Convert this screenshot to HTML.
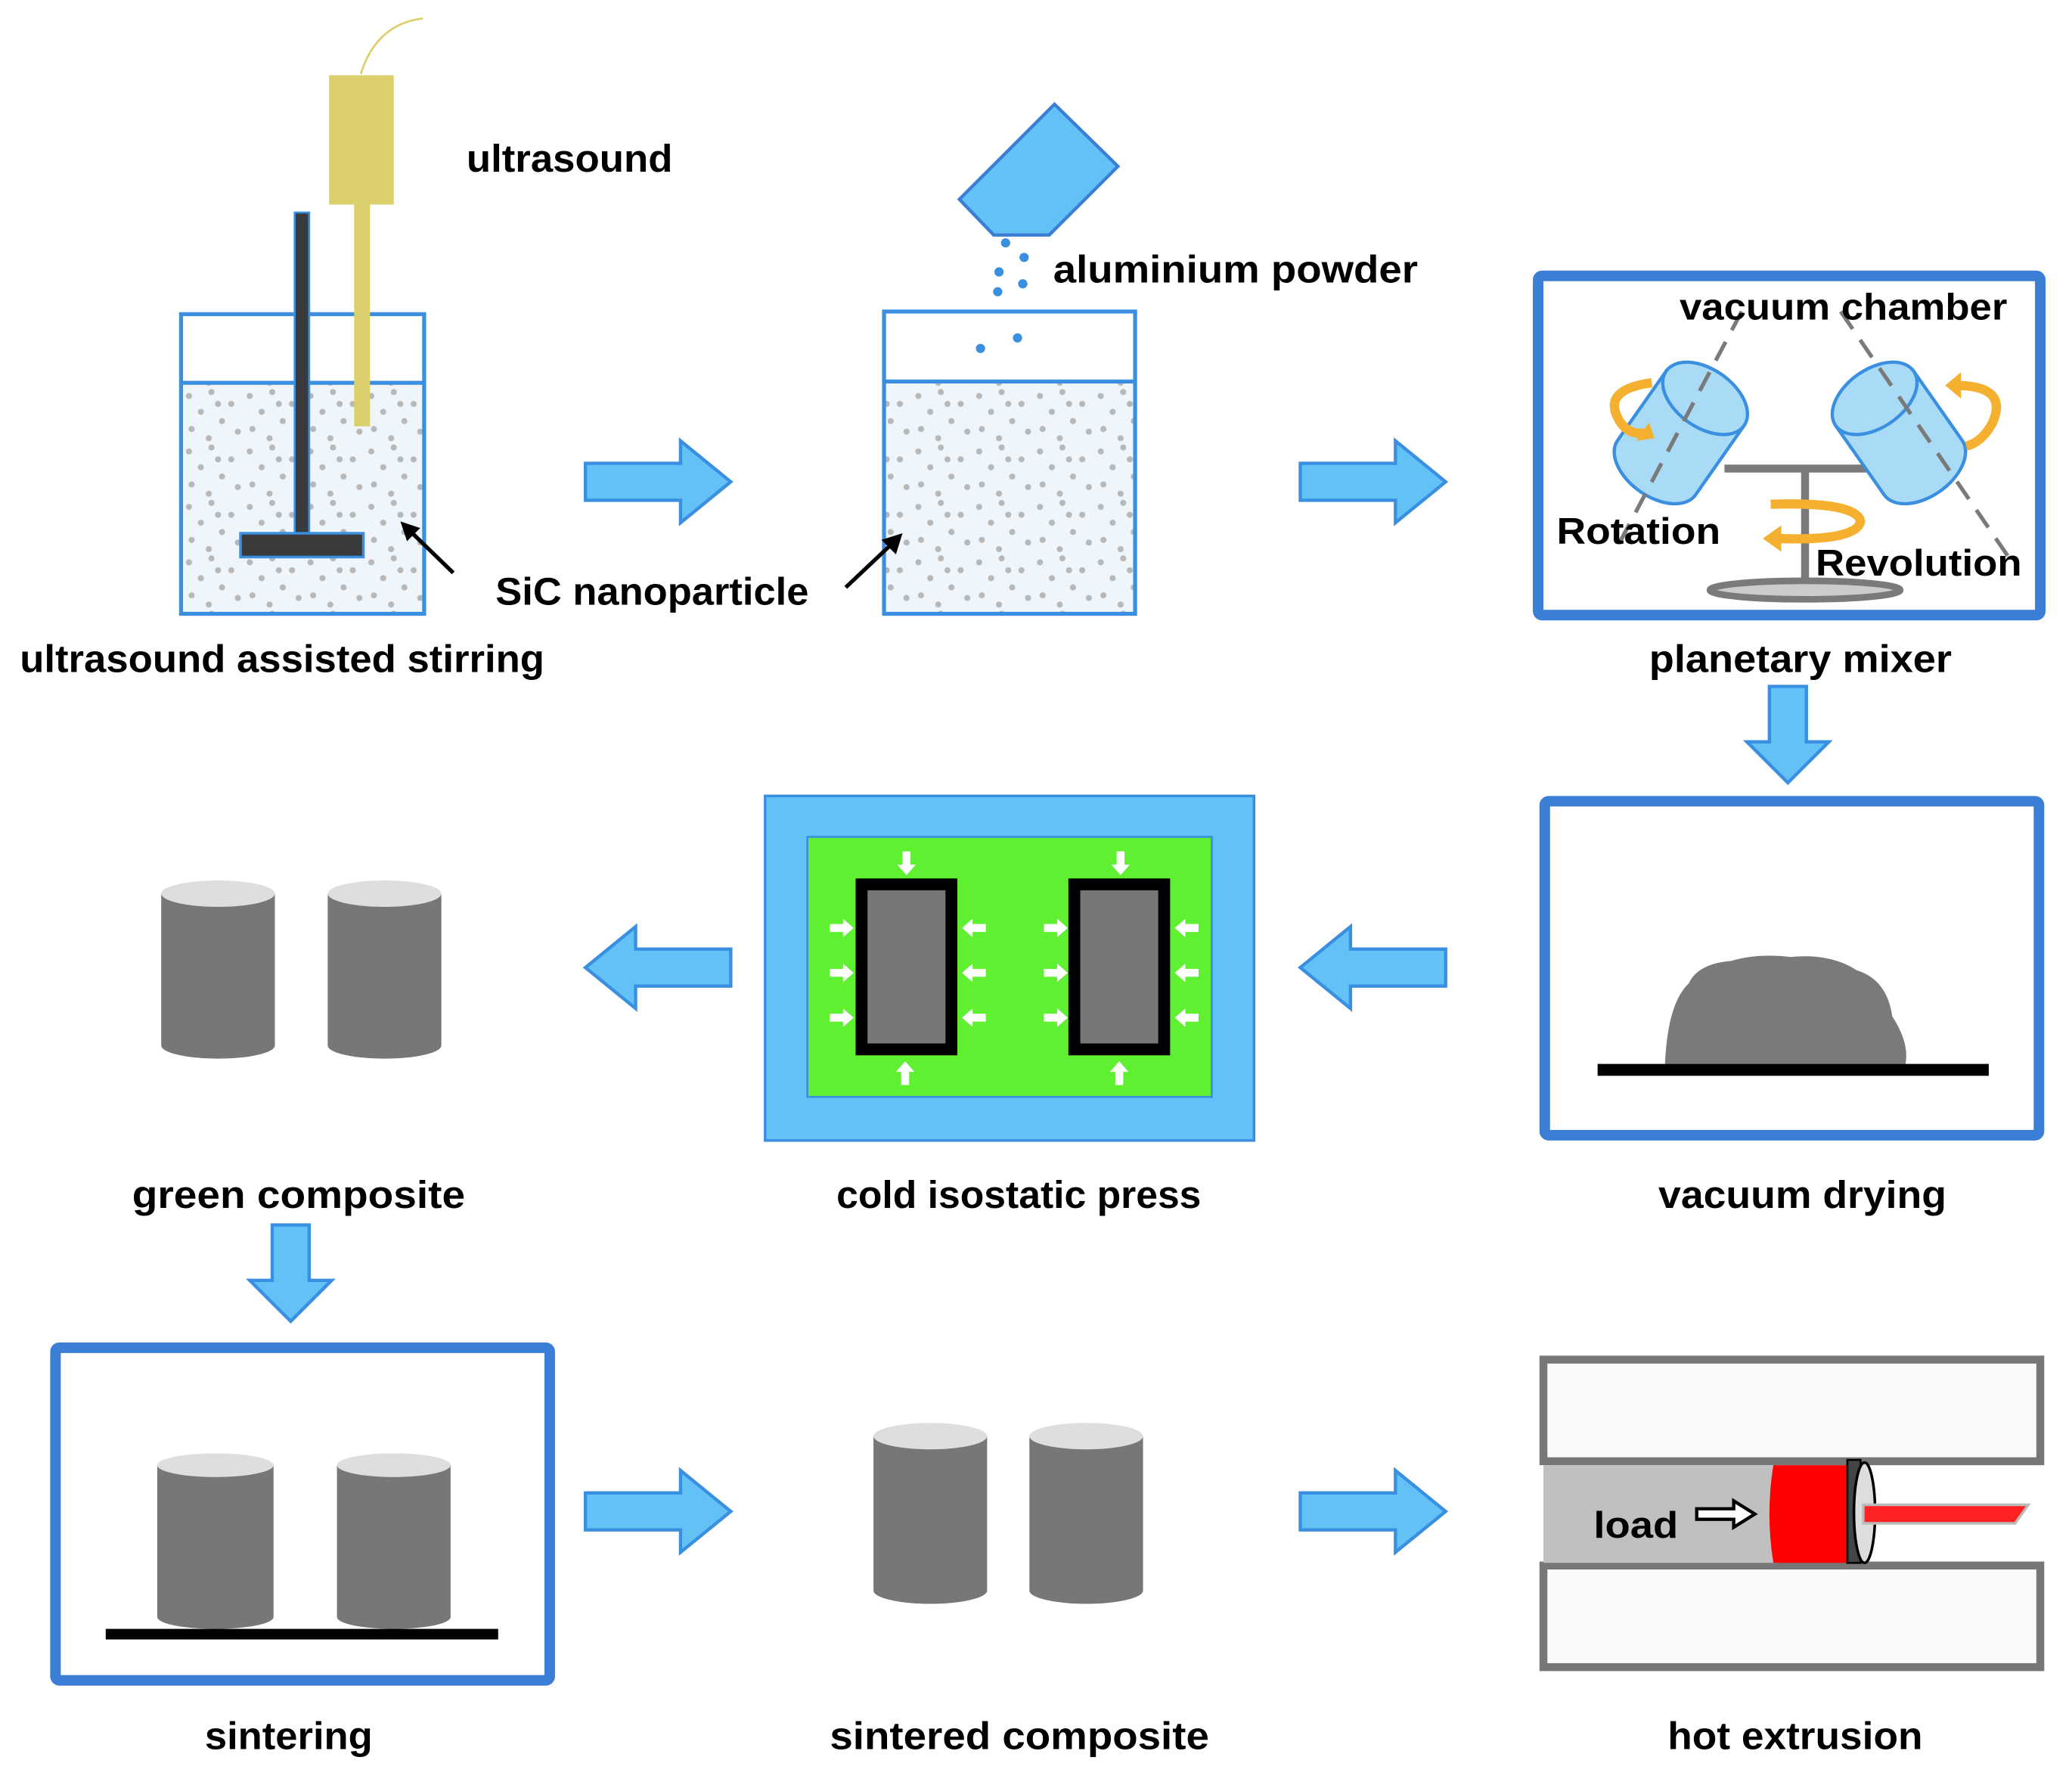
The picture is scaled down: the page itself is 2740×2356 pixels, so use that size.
<!DOCTYPE html>
<html><head><meta charset="utf-8"><style>html,body{margin:0;padding:0;background:#fff}svg{display:block}</style></head>
<body>
<svg width="2740" height="2356" viewBox="0 0 1568 1350" preserveAspectRatio="none" xmlns="http://www.w3.org/2000/svg" font-family="Liberation Sans, sans-serif" font-weight="bold">
<defs>
<pattern id="dots" width="46" height="42" patternUnits="userSpaceOnUse">
<rect width="46" height="42" fill="#eef6fb"/>
<g fill="#b8b8b8">
<circle cx="5" cy="6" r="2.3"/><circle cx="22" cy="3" r="2.3"/><circle cx="37" cy="12" r="2.3"/><circle cx="14" cy="18" r="2.3"/><circle cx="30" cy="25" r="2.3"/><circle cx="7" cy="31" r="2.3"/><circle cx="42" cy="33" r="2.3"/><circle cx="20" cy="38" r="2.3"/><circle cx="27" cy="12" r="2.3"/>
</g></pattern>
<path id="ar" d="M0,-14 H72 V-31 L110,0 L72,31 V14 H0 Z" fill="#62c1f5" stroke="#3a8fe0" stroke-width="2.5"/>
<path id="ad" d="M-14,0 V42 H-31 L0,73 L31,42 H14 V0 Z" fill="#62c1f5" stroke="#3a8fe0" stroke-width="2.5"/>
<path id="wa" d="M-10,-3 H0 V-7 L8,0 L0,7 V3 H-10 Z" fill="#fff"/>
</defs>
<rect width="1568" height="1350" fill="#fff"/>

<!-- beaker 1 -->
<path d="M273,56 Q285,18 320,14" fill="none" stroke="#dccf6e" stroke-width="1.5"/>
<rect x="137" y="290" width="184" height="175" fill="url(#dots)"/>
<rect x="137" y="238" width="184" height="227" fill="none" stroke="#3a8fe0" stroke-width="3"/>
<line x1="137" y1="290" x2="321" y2="290" stroke="#3a8fe0" stroke-width="3"/>
<rect x="249" y="57" width="49" height="98" fill="#dccf6e"/>
<rect x="268" y="155" width="12" height="168" fill="#dccf6e"/>
<rect x="223" y="161" width="11" height="250" fill="#3a3a3a" stroke="#3a8fe0" stroke-width="1.5"/>
<rect x="182" y="404" width="93" height="18" fill="#3a3a3a" stroke="#3a8fe0" stroke-width="2"/>
<text x="353" y="130" font-size="29" textLength="156" lengthAdjust="spacingAndGlyphs">ultrasound</text>
<line x1="343" y1="434" x2="308" y2="400" stroke="#000" stroke-width="3"/>
<path d="M303,395 L318,400 L308,410 Z" fill="#000"/>
<text x="375" y="458" font-size="29" textLength="237" lengthAdjust="spacingAndGlyphs">SiC nanoparticle</text>
<text x="15" y="509" font-size="29" textLength="397" lengthAdjust="spacingAndGlyphs">ultrasound assisted stirring</text>

<!-- beaker 2 -->
<polygon points="798,79 846,126 794,178 752,178 726,151" fill="#62c1f5" stroke="#3a7fd5" stroke-width="2.5"/>
<g fill="#3a8fe0"><circle cx="761" cy="184" r="3.5"/><circle cx="775" cy="195" r="3.5"/><circle cx="756" cy="206" r="3.5"/><circle cx="774" cy="215" r="3.5"/><circle cx="755" cy="221" r="3.5"/><circle cx="742" cy="264" r="3.5"/><circle cx="770" cy="256" r="3.5"/></g>
<text x="797" y="214" font-size="29" textLength="276" lengthAdjust="spacingAndGlyphs">aluminium powder</text>
<rect x="669" y="289" width="190" height="176" fill="url(#dots)"/>
<rect x="669" y="236" width="190" height="229" fill="none" stroke="#3a8fe0" stroke-width="3"/>
<line x1="669" y1="289" x2="859" y2="289" stroke="#3a8fe0" stroke-width="3"/>
<line x1="640" y1="445" x2="676" y2="411" stroke="#000" stroke-width="3"/>
<path d="M683,404 L678,420 L667,409 Z" fill="#000"/>

<!-- arrows -->
<use href="#ar" transform="translate(443,365)"/>
<use href="#ar" transform="translate(984,365)"/>
<use href="#ar" transform="translate(553,733) scale(-1,1)"/>
<use href="#ar" transform="translate(1094,733) scale(-1,1)"/>
<use href="#ar" transform="translate(443,1145)"/>
<use href="#ar" transform="translate(984,1145)"/>
<use href="#ad" transform="translate(1353,520)"/>
<use href="#ad" transform="translate(220,928)"/>

<!-- planetary mixer -->
<rect x="1164" y="209" width="380" height="257" fill="#fff" stroke="#3a7fd5" stroke-width="8" rx="3"/>
<line x1="1305" y1="355" x2="1428" y2="355" stroke="#7a7a7a" stroke-width="6"/>
<line x1="1366" y1="355" x2="1366" y2="445" stroke="#7a7a7a" stroke-width="6"/>
<ellipse cx="1366" cy="447" rx="72" ry="7" fill="#ccc" stroke="#7a7a7a" stroke-width="5"/>
<g transform="translate(1272,328) rotate(35)">
<path d="M-36,-32 V32 A36,22 0 0 0 36,32 V-32 Z" fill="#a9dbf6" stroke="#3a8fe0" stroke-width="2.5"/>
<ellipse cx="0" cy="-32" rx="36" ry="22" fill="#a9dbf6" stroke="#3a8fe0" stroke-width="2.5"/>
</g>
<g transform="translate(1437,328) rotate(-35)">
<path d="M-36,-32 V32 A36,22 0 0 0 36,32 V-32 Z" fill="#a9dbf6" stroke="#3a8fe0" stroke-width="2.5"/>
<ellipse cx="0" cy="-32" rx="36" ry="22" fill="#a9dbf6" stroke="#3a8fe0" stroke-width="2.5"/>
</g>
<line x1="1318" y1="236" x2="1222" y2="418" stroke="#7a7a7a" stroke-width="3" stroke-dasharray="16,10"/>
<line x1="1393" y1="236" x2="1522" y2="425" stroke="#7a7a7a" stroke-width="3" stroke-dasharray="16,10"/>
<g fill="none" stroke="#f5b030" stroke-width="7">
<path d="M1250,290 Q1212,295 1225,318 Q1232,330 1245,328"/>
<path d="M1480,292 Q1520,292 1508,320 Q1500,335 1488,338"/>
<path d="M1340,382 Q1405,380 1408,395 Q1405,410 1345,408"/>
</g>
<path d="M1248,320 L1252,332 L1238,334 Z" fill="#f5b030"/>
<path d="M1472,292 L1484,282 L1484,302 Z" fill="#f5b030"/>
<path d="M1334,408 L1348,398 L1348,418 Z" fill="#f5b030"/>
<text x="1271" y="242" font-size="28" textLength="248" lengthAdjust="spacingAndGlyphs">vacuum chamber</text>
<text x="1178" y="412" font-size="28" textLength="124" lengthAdjust="spacingAndGlyphs">Rotation</text>
<text x="1374" y="436" font-size="28" textLength="156" lengthAdjust="spacingAndGlyphs">Revolution</text>
<text x="1248" y="509" font-size="29" textLength="229" lengthAdjust="spacingAndGlyphs">planetary mixer</text>

<!-- vacuum drying -->
<rect x="1169" y="607" width="374" height="253" fill="#fff" stroke="#3a7fd5" stroke-width="8" rx="3"/>
<path d="M1260,806 Q1262,760 1278,745 Q1285,730 1310,728 Q1330,722 1355,725 Q1385,722 1405,735 Q1428,742 1432,770 Q1445,790 1442,806 Z" fill="#7a7a7a"/>
<rect x="1209" y="806" width="296" height="9" fill="#000"/>
<text x="1255" y="915" font-size="29" textLength="218" lengthAdjust="spacingAndGlyphs">vacuum drying</text>

<!-- cold isostatic press -->
<rect x="579" y="603" width="370" height="261" fill="#62c1f5" stroke="#3a8fe0" stroke-width="2"/>
<rect x="611" y="634" width="306" height="197" fill="#5ff032" stroke="#3a8fe0" stroke-width="1.5"/>
<rect x="652" y="670" width="68" height="125" fill="#777" stroke="#000" stroke-width="9"/>
<rect x="813" y="670" width="68" height="125" fill="#777" stroke="#000" stroke-width="9"/>
<g>
<use href="#wa" transform="translate(638,703)"/><use href="#wa" transform="translate(638,737)"/><use href="#wa" transform="translate(638,771)"/>
<use href="#wa" transform="translate(736,703) scale(-1,1)"/><use href="#wa" transform="translate(736,737) scale(-1,1)"/><use href="#wa" transform="translate(736,771) scale(-1,1)"/>
<use href="#wa" transform="translate(800,703)"/><use href="#wa" transform="translate(800,737)"/><use href="#wa" transform="translate(800,771)"/>
<use href="#wa" transform="translate(897,703) scale(-1,1)"/><use href="#wa" transform="translate(897,737) scale(-1,1)"/><use href="#wa" transform="translate(897,771) scale(-1,1)"/>
<use href="#wa" transform="translate(686,655) rotate(90)"/><use href="#wa" transform="translate(848,655) rotate(90)"/>
<use href="#wa" transform="translate(685,812) rotate(-90)"/><use href="#wa" transform="translate(847,812) rotate(-90)"/>
</g>
<text x="633" y="915" font-size="29" textLength="276" lengthAdjust="spacingAndGlyphs">cold isostatic press</text>

<!-- cylinders -->
<g fill="#777">
<path d="M122,677 V792 A43,10 0 0 0 208,792 V677 Z"/>
<path d="M248,677 V792 A43,10 0 0 0 334,792 V677 Z"/>
<path d="M119,1110 V1225 A44,9 0 0 0 207,1225 V1110 Z"/>
<path d="M255,1110 V1225 A43,9 0 0 0 341,1225 V1110 Z"/>
<path d="M661,1088 V1205 A43,10 0 0 0 747,1205 V1088 Z"/>
<path d="M779,1088 V1205 A43,10 0 0 0 865,1205 V1088 Z"/>
</g>
<g fill="#dedede">
<ellipse cx="165" cy="677" rx="43" ry="10"/><ellipse cx="291" cy="677" rx="43" ry="10"/>
<ellipse cx="163" cy="1110" rx="44" ry="9"/><ellipse cx="298" cy="1110" rx="43" ry="9"/>
<ellipse cx="704" cy="1088" rx="43" ry="10"/><ellipse cx="822" cy="1088" rx="43" ry="10"/>
</g>
<text x="100" y="915" font-size="29" textLength="252" lengthAdjust="spacingAndGlyphs">green  composite</text>

<!-- sintering -->
<rect x="42" y="1021" width="374" height="252" fill="none" stroke="#3a7fd5" stroke-width="8" rx="3"/>
<rect x="80" y="1234" width="297" height="8" fill="#000"/>
<text x="155" y="1325" font-size="29" textLength="127" lengthAdjust="spacingAndGlyphs">sintering</text>
<text x="628" y="1325" font-size="29" textLength="287" lengthAdjust="spacingAndGlyphs">sintered  composite</text>

<!-- hot extrusion -->
<rect x="1168" y="1030" width="376" height="77" fill="#fafafa" stroke="#777" stroke-width="6"/>
<rect x="1168" y="1186" width="376" height="77" fill="#fafafa" stroke="#777" stroke-width="6"/>
<rect x="1168" y="1110" width="178" height="74" fill="#c0c0c0"/>
<path d="M1342,1110 Q1336,1147 1342,1184 H1400 V1110 Z" fill="#ff0000"/>
<rect x="1398" y="1106" width="10" height="78" fill="#444" stroke="#000" stroke-width="1.5"/>
<ellipse cx="1411" cy="1146" rx="8" ry="38" fill="#ddd" stroke="#000" stroke-width="2"/>
<path d="M1410,1140 H1535 L1525,1154 H1410 Z" fill="#ff2222" stroke="#bbb" stroke-width="2"/>
<text x="1206" y="1165" font-size="28" textLength="64" lengthAdjust="spacingAndGlyphs">load</text>
<path d="M1284,1143 H1312 V1137 L1328,1147 L1312,1157 V1151 H1284 Z" fill="#fff" stroke="#000" stroke-width="2.5"/>
<text x="1262" y="1325" font-size="29" textLength="193" lengthAdjust="spacingAndGlyphs">hot extrusion</text>
</svg>
</body></html>
